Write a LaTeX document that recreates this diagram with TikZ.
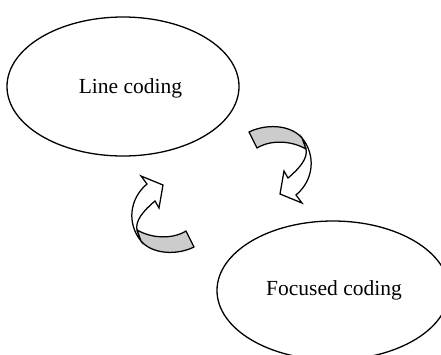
\documentclass[tikz,border=0pt]{standalone}
\usepackage{fontspec}
\setmainfont{Liberation Serif}
\usetikzlibrary{shapes.geometric}
\tikzset{
  stage/.style={draw, ellipse, line width=1.3bp, minimum width=232bp, minimum height=139bp, inner sep=0pt},
  caption/.style={font=\fontsize{21.5bp}{26bp}\selectfont, anchor=base, inner sep=0pt},
  backband/.style={draw, fill=gray!40, line width=1.25bp, line join=round},
  frontband/.style={draw, fill=white, line width=1.25bp, line join=miter},
}
% one curved block arrow: shaded back band turning into a white band with a notched head
\newcommand\curvedturn{%
  \filldraw[frontband] (302,138) .. controls (316,155) and (314,180) .. (296,195)
    -- (302,203) -- (280,194) -- (284,171) -- (288,178)
    .. controls (300,168) and (308,158) .. (306,149) -- cycle;
  \filldraw[backband] (249,132) .. controls (265,124) and (290,124) .. (302,138)
    -- (306,149) .. controls (290,140) and (270,140) .. (257,148) -- cycle;
}
\begin{document}
\begin{tikzpicture}[x=1bp,y=-1bp]
\useasboundingbox (0,0) rectangle (441,354);
\clip (0,0) rectangle (441,354);
\node[stage] (line) at (123,86.5) {};
\node[caption] (linetext) at (130.5,93) {Line coding};
\node[stage] (focus) at (333,290.5) {};
\node[caption] (focustext) at (334,295) {Focused coding};
% arrow from line coding towards focused coding
\curvedturn
% arrow back, the same shape turned half round
\begin{scope}[rotate around={180:(221.5,189.5)}]
  \curvedturn
\end{scope}
\end{tikzpicture}
\end{document}
